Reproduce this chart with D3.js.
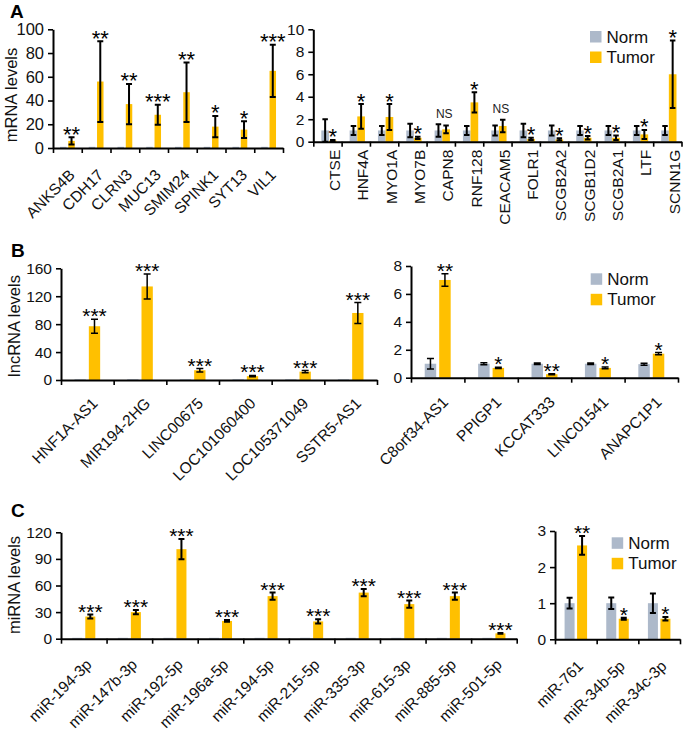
<!DOCTYPE html>
<html><head><meta charset="utf-8">
<script src="https://cdn.jsdelivr.net/npm/d3@7"></script>
<style>body{margin:0;background:#fff}svg{font-family:"Liberation Sans",Arial,Helvetica,sans-serif}</style>
</head><body>
<svg id="c" width="685" height="733"></svg>
<script>
// ---------- data ----------
const seriesNames = ["Norm", "Tumor"];

// Panel A (left)
const aLeftCats = ["ANKS4B","CDH17","CLRN3","MUC13","SMIM24","SPINK1","SYT13","VIL1"];
const aLeftNorm = [1,1,1,1,1,1,1,1];
const aLeftTumor = [6,56,37,28,47,18,15.5,65];
const aLeftTumorErr = [3,34,17,8.5,25,9,7,22];
const aLeftSig = ["**","**","**","***","**","*","*","***"];
const aLeftTicks = [0,20,40,60,80,100];

// Panel A (right)
const aRightCats = ["CTSE","HNF4A","MYO1A","MYO7B","CAPN8","RNF128","CEACAM5","FOLR1","SCGB2A2","SCGB1D2","SCGB2A1","LTF","SCNN1G"];
const aRightNorm = [1,1,1,1,1,1,1,1,1,1,1,1,1];
const aRightNormErr = [1,0.4,0.4,0.6,0.55,0.4,0.45,0.6,0.45,0.4,0.4,0.4,0.4];
const aRightTumor = [0.1,2.25,2.2,0.35,1.1,3.5,1.4,0.25,0.2,0.35,0.35,0.65,6];
const aRightTumorErr = [0.05,1.1,1.15,0.1,0.35,0.9,0.55,0.1,0.1,0.15,0.2,0.4,3];
const aRightSig = ["*","*","*","*","NS","*","NS","*","*","*","*","*","*"];
const aRightTicks = [0,2,4,6,8,10];

// Panel B (left)
const bLeftCats = ["HNF1A-AS1","MIR194-2HG","LINC00675","LOC101060400","LOC105371049","SSTR5-AS1"];
const bLeftNorm = [1,1,1,1,1,1];
const bLeftTumor = [77,134,14,5.5,12,96];
const bLeftTumorErr = [10,18,2.5,1,1.5,15];
const bLeftSig = ["***","***","***","***","***","***"];
const bLeftTicks = [0,40,80,120,160];

// Panel B (right)
const bRightCats = ["C8orf34-AS1","PPIGP1","KCCAT333","LINC01541","ANAPC1P1"];
const bRightNorm = [1,1,1,1,0.97];
const bRightNormErr = [0.38,0.07,0.05,0.06,0.07];
const bRightTumor = [7,0.7,0.25,0.7,1.72];
const bRightTumorErr = [0.45,0.05,0.03,0.06,0.08];
const bRightSig = ["**","*","**","*","*"];
const bRightTicks = [0,2,4,6,8];

// Panel C (left)
const cLeftCats = ["miR-194-3p","miR-147b-3p","miR-192-5p","miR-196a-5p","miR-194-5p","miR-215-5p","miR-335-3p","miR-615-3p","miR-885-5p","miR-501-5p"];
const cLeftNorm = [1,1,1,1,1,1,1,1,1,1];
const cLeftTumor = [25,30,101,20,48,19.5,52,39,48,6];
const cLeftTumorErr = [2.3,2.3,11.5,1,4,2.3,4,4,4,0.5];
const cLeftSig = ["***","***","***","***","***","***","***","***","***","***"];
const cLeftTicks = [0,30,60,90,120];

// Panel C (right)
const cRightCats = ["miR-761","miR-34b-5p","miR-34c-3p"];
const cRightNorm = [1,1,1];
const cRightNormErr = [0.15,0.16,0.27];
const cRightTumor = [2.6,0.57,0.57];
const cRightTumorErr = [0.26,0.03,0.05];
const cRightSig = ["**","*","*"];
const cRightTicks = [0,1,2,3];

// ---------- drawing ----------
const NORM_COLOR = "#adb9ca", TUMOR_COLOR = "#ffc000";
const svg = d3.select("#c");

function panel(cfg) {
  const n = cfg.cats.length;
  const x = d3.scaleBand().domain(cfg.cats).range([cfg.x0, cfg.x1]);
  const xi = d3.scaleLinear().domain([0, n]).range([cfg.x0, cfg.x1]);
  const y = d3.scaleLinear().domain([0, cfg.max]).range([cfg.y0, cfg.yTop]);
  const g = svg.append("g");
  const bw = x.bandwidth() * cfg.bwFrac, gap = cfg.gap;

  cfg.cats.forEach((c, i) => {
    const cx = x(c) + x.bandwidth() / 2 + (cfg.shift || 0);
    const nx = cx - gap / 2 - bw, tx = cx + gap / 2;
    const bars = [
      {x: nx, v: cfg.norm[i], e: cfg.normErr ? cfg.normErr[i] : null, col: NORM_COLOR},
      {x: tx, v: cfg.tumor[i], e: cfg.tumorErr[i], col: TUMOR_COLOR}
    ];
    bars.forEach(b => {
      g.append("rect").attr("x", b.x).attr("y", y(b.v)).attr("width", bw)
        .attr("height", cfg.y0 - y(b.v)).attr("fill", b.col);
      if (b.e != null) {
        const mx = b.x + bw / 2, lo = y(Math.max(0, b.v - b.e)), hi = y(b.v + b.e);
        const cw = cfg.capW;
        g.append("path").attr("d", `M${mx},${lo}V${hi}M${mx-cw/2},${hi}H${mx+cw/2}M${mx-cw/2},${lo}H${mx+cw/2}`)
          .attr("stroke", "#000").attr("stroke-width", cfg.errW).attr("fill", "none");
      }
    });
    const s = cfg.sig[i];
    const top = y(cfg.tumor[i] + cfg.tumorErr[i]);
    if (s === "NS") {
      g.append("text").attr("x", cx + 2).attr("y", top - 7).attr("text-anchor", "middle")
        .attr("font-size", 12).attr("fill", "#222").text(s);
    } else {
      g.append("text").attr("x", tx + bw / 2).attr("y", top + cfg.starFont * 0.43 - 5)
        .attr("text-anchor", "middle").attr("font-size", cfg.starFont).attr("fill", "#000").text(s);
    }
  });

  // y axis
  const ya = g.append("g").attr("transform", `translate(${cfg.x0},0)`)
    .call(d3.axisLeft(y).tickValues(cfg.ticks).tickFormat(d => String(d)).tickSize(5).tickSizeOuter(0).tickPadding(4));
  ya.select(".domain").attr("stroke-width", 2);
  ya.selectAll(".tick line").attr("stroke-width", 1.6);
  ya.selectAll(".tick text").attr("font-size", cfg.tickFont).attr("fill", "#111")
    .attr("font-family", "'Liberation Sans',Arial,sans-serif");

  // x axis (boundary ticks)
  const xa = g.append("g").attr("transform", `translate(0,${cfg.y0})`)
    .call(d3.axisBottom(xi).tickValues(d3.range(n + 1)).tickSize(5).tickSizeOuter(0).tickFormat(""));
  xa.select(".domain").attr("stroke-width", 2);
  xa.selectAll(".tick line").attr("stroke-width", 1.6);

  // category labels
  const lab = g.append("g");
  cfg.cats.forEach(c => {
    const cx = x(c) + x.bandwidth() / 2 + cfg.labDx;
    lab.append("text").attr("transform", `translate(${cx},${cfg.y0 + cfg.labDy}) rotate(${cfg.rot})`)
      .attr("text-anchor", "end").attr("dy", "0.35em").attr("font-size", cfg.labFont)
      .attr("fill", "#111").text(c);
  });

  if (cfg.ytitle) {
    g.append("text").attr("transform", `translate(${cfg.ytX},${cfg.ytY}) rotate(-90)`)
      .attr("text-anchor", "middle").attr("font-size", 16.5).attr("fill", "#111").text(cfg.ytitle);
  }
  if (cfg.letter) {
    g.append("text").attr("x", cfg.letter[1]).attr("y", cfg.letter[2]).attr("font-size", 19)
      .attr("font-weight", "bold").text(cfg.letter[0]);
  }
  if (cfg.legend) {
    const [lx, ly] = cfg.legend;
    const lg = g.append("g").selectAll("g").data(seriesNames).join("g")
      .attr("transform", (d, i) => `translate(${lx},${ly + i * 20.5})`);
    lg.append("rect").attr("width", 11.5).attr("height", 11.5)
      .attr("fill", (d, i) => i ? TUMOR_COLOR : NORM_COLOR);
    lg.append("text").attr("x", 16.5).attr("y", 11.5).attr("font-size", 17).attr("fill", "#111").text(d => d);
  }
}

panel({cats: aLeftCats, norm: aLeftNorm, normErr: null, tumor: aLeftTumor, tumorErr: aLeftTumorErr, sig: aLeftSig,
  ticks: aLeftTicks, max: 100, x0: 53, x1: 283, y0: 148, yTop: 29.3, bwFrac: 0.226, gap: 1.8, capW: 6, errW: 2,
  starFont: 22, tickFont: 16.5, labFont: 15.5, rot: -45, labDx: 4.5, labDy: 24,
  ytitle: "mRNA levels", ytX: 17, ytY: 95, letter: ["A", 10, 18]});

panel({cats: aRightCats, norm: aRightNorm, normErr: aRightNormErr, tumor: aRightTumor, tumorErr: aRightTumorErr, sig: aRightSig,
  ticks: aRightTicks, max: 10, x0: 313.3, x1: 681.5, y0: 141.7, yTop: 29.3, bwFrac: 0.27, gap: 0, capW: 5.5, errW: 2,
  starFont: 22, tickFont: 15.5, labFont: 15.5, rot: -90, labDx: 7, labDy: 8, shift: 1.5,
  legend: [590, 31]});

panel({cats: bLeftCats, norm: bLeftNorm, normErr: null, tumor: bLeftTumor, tumorErr: bLeftTumorErr, sig: bLeftSig,
  ticks: bLeftTicks, max: 160, x0: 61, x1: 377, y0: 380, yTop: 268.3, bwFrac: 0.215, gap: 3, capW: 7, errW: 1.5,
  starFont: 21, tickFont: 15.5, labFont: 15.5, rot: -45, labDx: 7.5, labDy: 20.5,
  ytitle: "lncRNA levels", ytX: 20, ytY: 326, letter: ["B", 11, 257]});

panel({cats: bRightCats, norm: bRightNorm, normErr: bRightNormErr, tumor: bRightTumor, tumorErr: bRightTumorErr, sig: bRightSig,
  ticks: bRightTicks, max: 8, x0: 411, x1: 678, y0: 377.7, yTop: 266, bwFrac: 0.215, gap: 3, capW: 7, errW: 1.5,
  starFont: 21, tickFont: 15.5, labFont: 15.5, rot: -45, labDx: 7.5, labDy: 21.5,
  legend: [590.7, 273.3]});

panel({cats: cLeftCats, norm: cLeftNorm, normErr: null, tumor: cLeftTumor, tumorErr: cLeftTumorErr, sig: cLeftSig,
  ticks: cLeftTicks, max: 120, x0: 61, x1: 516.7, y0: 638.7, yTop: 532.3, bwFrac: 0.22, gap: 3, capW: 6, errW: 2,
  starFont: 21, tickFont: 15.5, labFont: 15.5, rot: -45, labDx: 5, labDy: 23,
  ytitle: "miRNA levels", ytX: 20, ytY: 585, letter: ["C", 11, 517]});

panel({cats: cRightCats, norm: cRightNorm, normErr: cRightNormErr, tumor: cRightTumor, tumorErr: cRightTumorErr, sig: cRightSig,
  ticks: cRightTicks, max: 3, x0: 555, x1: 680, y0: 639.3, yTop: 531, bwFrac: 0.24, gap: 2.5, capW: 6, errW: 2,
  starFont: 21, tickFont: 15.5, labFont: 15.5, rot: -45, labDx: 4.5, labDy: 24,
  legend: [611.7, 537.3]});
</script>
</body></html>
